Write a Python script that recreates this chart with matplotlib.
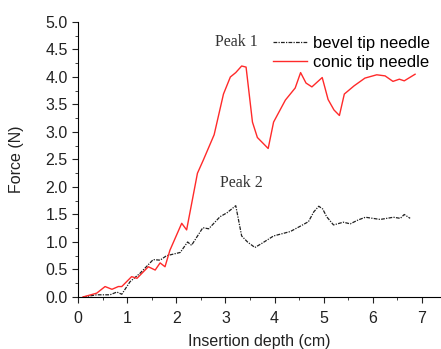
import matplotlib
matplotlib.use("Agg")
import matplotlib.pyplot as plt
from matplotlib.ticker import MultipleLocator

# conic tip needle (red)
conic_x = [0.1, 0.38, 0.55, 0.69, 0.82, 0.89, 1.09, 1.2, 1.43, 1.57, 1.67, 1.77, 1.87,
           2.11, 2.21, 2.43, 2.55, 2.77, 2.96, 3.1, 3.21, 3.33, 3.42, 3.55, 3.65, 3.87,
           3.98, 4.22, 4.42, 4.53, 4.64, 4.76, 4.97, 5.09, 5.21, 5.32, 5.42, 5.62, 5.84,
           6.08, 6.25, 6.41, 6.54, 6.64, 6.86]
conic_y = [0.0, 0.07, 0.19, 0.14, 0.19, 0.19, 0.37, 0.34, 0.55, 0.49, 0.62, 0.55, 0.85,
           1.34, 1.22, 2.25, 2.49, 2.95, 3.69, 4.0, 4.08, 4.2, 4.18, 3.18, 2.9, 2.7,
           3.18, 3.58, 3.8, 4.08, 3.89, 3.82, 3.99, 3.59, 3.4, 3.3, 3.69, 3.84, 3.98,
           4.04, 4.02, 3.92, 3.96, 3.93, 4.05]

# bevel tip needle (black dash-dot)
bevel_x = [0.1, 0.38, 0.65, 0.79, 0.89, 1.06, 1.26, 1.53, 1.67, 1.8, 2.08, 2.23, 2.31,
           2.54, 2.66, 2.89, 3.03, 3.21, 3.33, 3.45, 3.6, 3.75, 3.98, 4.32, 4.55, 4.69,
           4.8, 4.9, 4.98, 5.06, 5.2, 5.4, 5.54, 5.7, 5.85, 6.15, 6.42, 6.56, 6.64, 6.76]
bevel_y = [0.0, 0.04, 0.04, 0.09, 0.05, 0.28, 0.43, 0.68, 0.67, 0.75, 0.81, 1.0, 0.94,
           1.26, 1.24, 1.46, 1.53, 1.66, 1.11, 1.0, 0.9, 0.98, 1.11, 1.19, 1.3, 1.37,
           1.55, 1.65, 1.6, 1.46, 1.31, 1.36, 1.33, 1.4, 1.45, 1.41, 1.45, 1.43, 1.5, 1.43]

plt.rcParams['font.family'] = ['Liberation Sans', 'DejaVu Sans']

fig = plt.figure(figsize=(4.41, 3.49), dpi=100)
ax = fig.add_axes([0.177, 0.149, 0.821, 0.788])

ax.plot(bevel_x, bevel_y, color='#202020', lw=0.9, linestyle=(0, (3, 1, 1, 1)),
        label='bevel tip needle')
ax.plot(conic_x, conic_y, color='#ff2a2a', lw=1.0, label='conic tip needle')

ax.set_xlim(0, 7.37)
ax.set_ylim(0, 5.0)
ax.xaxis.set_major_locator(MultipleLocator(1))
ax.xaxis.set_minor_locator(MultipleLocator(0.5))
ax.yaxis.set_major_locator(MultipleLocator(0.5))
ax.yaxis.set_minor_locator(MultipleLocator(0.25))
ax.yaxis.set_major_formatter(plt.FormatStrFormatter('%.1f'))
ax.tick_params(which='both', direction='out', labelsize=11.5, colors='#222222')
ax.tick_params(axis='x', which='major', pad=6)
ax.tick_params(which='major', length=4)
ax.tick_params(which='minor', length=2.5)
for s in ['top', 'right']:
    ax.spines[s].set_visible(False)

ax.set_xlabel('Insertion depth (cm)', fontsize=11.5, labelpad=6, color='#222222')
ax.set_ylabel('Force (N)', fontsize=11.5, labelpad=15, color='#222222')

ax.text(3.23, 4.64, 'Peak 1', family='Liberation Serif', fontsize=11.5,
        ha='center', va='center', color='#333333')
ax.text(3.32, 2.07, 'Peak 2', family='Liberation Serif', fontsize=11.5,
        ha='center', va='center', color='#333333')

ax.legend(loc='upper right', frameon=False, fontsize=12, handlelength=2.0,
          borderaxespad=0.1, borderpad=0.5, labelspacing=0.25, handletextpad=0.4,
          bbox_to_anchor=(1.0, 0.985))

fig.savefig('out.png', dpi=100)
